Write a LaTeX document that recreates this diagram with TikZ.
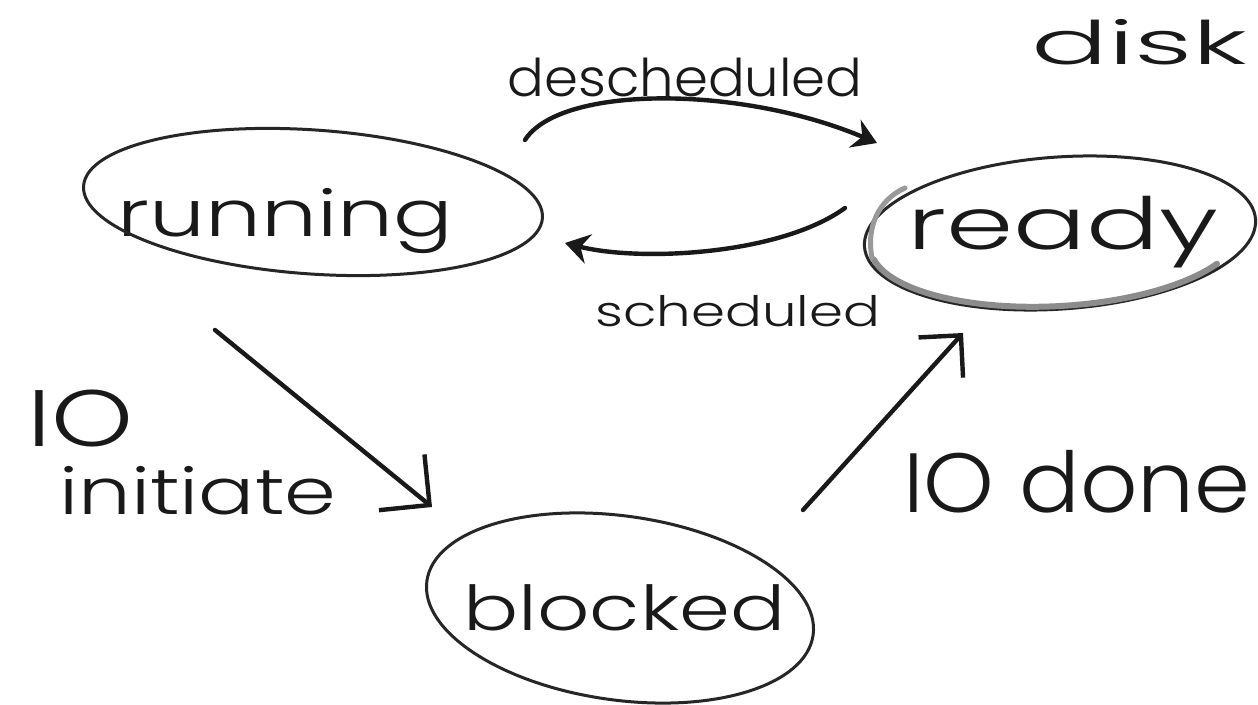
\documentclass[tikz,border=0pt]{standalone}
\usepackage{fontspec}
\newfontfamily\hand{Poppins Light}
\usetikzlibrary{arrows.meta}
% handwritten-looking text: size in pt, horizontal stretch
\newcommand\hw[3]{{\hand\fontsize{#1pt}{#1pt}\selectfont\scalebox{#2}[1]{#3}}}
\begin{document}
\begin{tikzpicture}[x=0.5pt,y=-0.5pt,
  ink/.style={draw=black!85, line width=1.5pt, line cap=round},
  pen/.style={draw=black!90, line width=2.2pt, line cap=round},
  barb/.style={-{Straight Barb[length=#1,width=2*#1]}},
  blob/.style={-{Stealth[length=12pt,width=15pt,inset=4pt]}},
  lbl/.style={inner sep=0pt, text=black!90, anchor=base west}
]
\useasboundingbox[fill=white] (0,0) rectangle (1258,705);

% state names
\node[lbl] (running) at (117,237) {\hw{32}{1.38}{running}};
\node[lbl] (ready)   at (907,250) {\hw{36}{1.5}{ready}};
\node[lbl] (blocked) at (463,630) {\hw{31}{1.32}{blocked}};

% ellipses around the states
\draw[ink, rotate around={-4:(313,202)}] (313,202) ellipse (230 and 72);
\draw[ink, rotate around={4:(1060,233)}] (1060,233) ellipse (196 and 76);
\draw[ink, draw=black!45, line width=3pt, rotate around={3:(1055,238)}]
  (873,250) arc[start angle=170, end angle=30, x radius=185, y radius=68];
\draw[ink, draw=black!40, line width=2.5pt]
  (872,258) .. controls (866,228) and (878,200) .. (905,188);
\draw[ink, rotate around={-8:(620,608)}] (620,608) ellipse (195 and 92);

% other labels
\node[lbl] (disk)  at (1031,65) {\hw{30}{1.9}{disk}};
\node[lbl] (desch) at (507,97)  {\hw{26}{1.05}{descheduled}};
\node[lbl] (sched) at (595,327) {\hw{21}{1.3}{scheduled}};
\node[lbl] (iodone) at (903,512) {\hw{42}{1.07}{IO done}};
\node[inner sep=0pt, anchor=north west, align=left, text=black!90,
      font={\fontsize{32pt}{34pt}\selectfont}] (ioinit) at (27,390)
  {\hw{40}{1.3}{IO}\\\hspace*{16pt}\hw{32}{1.3}{initiate}};

% connector end points beside the states
\coordinate (runOut)    at (525,140);
\coordinate (readyIn)   at (877,143);
\coordinate (readyOut)  at (845,208);
\coordinate (runIn)     at (565,243);
\coordinate (runDown)   at (215,330);
\coordinate (blockIn)   at (432,507);
\coordinate (blockOut)  at (803,510);
\coordinate (readyUp)   at (963,333);

% transitions
\draw[pen, blob] (runOut) .. controls (560,85) and (740,85) .. (readyIn);
\draw[pen, blob] (readyOut) .. controls (780,255) and (640,262) .. (runIn);
\draw[pen, barb=18pt] (runDown) -- (blockIn);
\draw[pen, barb=15pt] (blockOut) -- (readyUp);
\end{tikzpicture}
\end{document}
